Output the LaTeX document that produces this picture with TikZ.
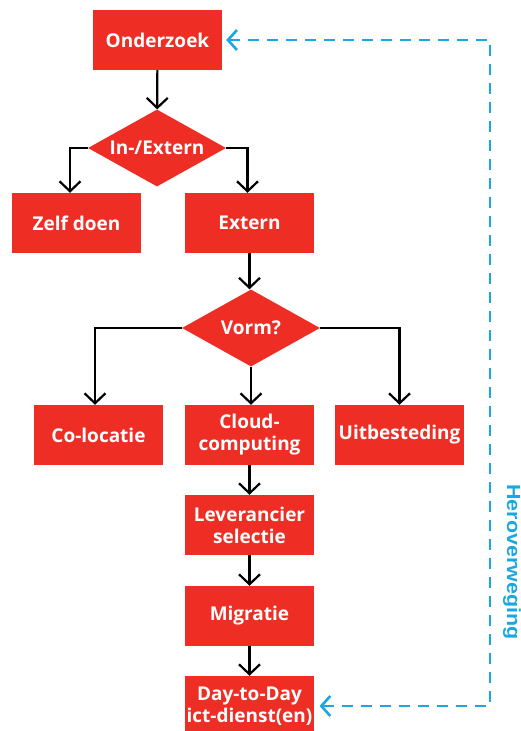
\documentclass[tikz,border=0pt]{standalone}
\usepackage{fontspec}
\setmainfont{Open Sans}
\newfontfamily\labelfont[FakeStretch=1.13]{Liberation Sans}
\usetikzlibrary{shapes.geometric,arrows.meta}
\definecolor{boxred}{HTML}{EE2E24}
\definecolor{loopblue}{HTML}{1BA6E4}
\begin{document}
\begin{tikzpicture}[x=1pt,y=-1pt,
  box/.style={fill=boxred, minimum width=129pt, minimum height=60pt, inner sep=2pt,
    text=white, font=\bfseries\fontsize{19}{22}\selectfont, align=center},
  dec/.style={diamond, fill=boxred, minimum width=138pt, minimum height=77pt, inner sep=0pt,
    aspect=1.8, text=white, font=\bfseries\fontsize{19}{22}\selectfont},
  flow/.style={draw=black, line width=2.2pt, -{Straight Barb[length=10pt,width=21pt,line width=2.2pt]}},
  back/.style={draw=loopblue, line width=2.6pt, dash pattern=on 11pt off 8pt,
    {Straight Barb[length=9pt,width=20pt,line width=2.6pt]}-{Straight Barb[length=9pt,width=20pt,line width=2.6pt]},
    shorten <=4pt, shorten >=5pt}
]
\useasboundingbox (0,0) rectangle (521,731);
\fill[white] (0,0) rectangle (521,731);

\node[box] (onder) at (157.5,40) {Onderzoek};
\node[dec] (inext) at (157,148) {In-/Extern};
\node[box] (zelf) at (76.5,223) {Zelf doen};
\node[box] (extern) at (249.5,223) {Extern};
\node[dec] (vorm) at (251,328) {Vorm?};
\node[box] (coloc) at (98.5,435) {Co-locatie};
\node[box] (cloud) at (249.5,435) {Cloud-\\computing};
\node[box] (uitb) at (399.5,435) {Uitbesteding};
\node[box] (lev) at (249.5,525) {Leverancier\\selectie};
\node[box] (migr) at (249.5,616) {Migratie};
\node[box] (dtd) at (249.5,706) {Day-to-Day\\ict-dienst(en)};

\draw[flow] (onder) -- (inext);
\draw[flow] (inext.west) -| ([xshift=-6.5pt]zelf.north);
\draw[flow] (inext.east) -| ([xshift=-2pt]extern.north);
\draw[flow] (extern) -- (extern |- vorm.north);
\draw[flow] (vorm.west) -| ([xshift=-3.5pt]coloc.north);
\draw[flow] (vorm.south) -- (vorm.south |- cloud.north);
\draw[flow] (vorm.east) -| (uitb.north);
\draw[flow] (cloud) -- (lev);
\draw[flow] (lev) -- (migr);
\draw[flow] (migr) -- (dtd);

\coordinate (tr) at (490,40);
\coordinate (br) at (490,706);
\draw[back] (onder.east) -- (tr) -- (br) -- (dtd.east);

\node[rotate=-90, text=loopblue, font=\labelfont\bfseries\fontsize{19}{20}\selectfont] (herov) at (512,562) {Heroverweging};
\end{tikzpicture}
\end{document}
